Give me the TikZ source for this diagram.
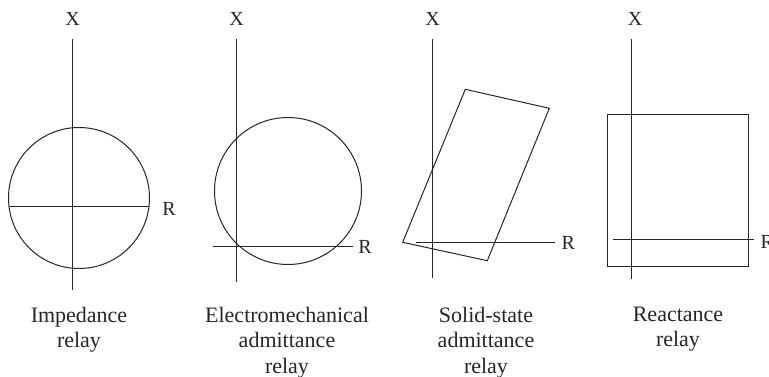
\documentclass[tikz,border=0pt]{standalone}
\usepackage{fontspec}
\setmainfont{Liberation Serif}
\begin{document}
\begin{tikzpicture}[x=1pt,y=-1pt,
  every node/.style={inner sep=0pt,outer sep=0pt,text=black!85},
  axis/.style={line width=1pt,draw=black!85},
  curve/.style={line width=1pt,draw=black!85},
  axlabel/.style={font=\fontsize{20}{24}\selectfont},
  caption/.style={anchor=north,align=center,font=\fontsize{22}{25.5}\selectfont}]
\useasboundingbox (0,0) rectangle (769,377);
% ---- Panel 1: impedance relay
\coordinate (x1t) at (72.7,39);
\coordinate (x1b) at (72.7,290);
\coordinate (r1l) at (9,207);
\coordinate (r1r) at (148.6,207);
\node[axlabel,anchor=base] (X1) at (72.7,26) {X};
\node[axlabel,anchor=west] (R1) at (162.3,209) {R};
\draw[curve] (79,198) circle[radius=70.5];
\draw[axis] (x1t) -- (x1b);
\draw[axis] (r1l) -- (r1r);
\node[caption] (c1) at (79,307) {Impedance\\relay};
% ---- Panel 2: electromechanical admittance relay
\coordinate (x2t) at (236,39);
\coordinate (x2b) at (236,281.7);
\coordinate (r2l) at (212.7,246.7);
\coordinate (r2r) at (352.7,246.7);
\node[axlabel,anchor=base] (X2) at (236.7,26) {X};
\node[axlabel,anchor=west] (R2) at (358.3,247) {R};
\draw[curve] (288,191) circle[radius=73.5];
\draw[axis] (x2t) -- (x2b);
\draw[axis] (r2l) -- (r2r);
\node[caption] (c2) at (287,307) {Electromechanical\\admittance\\relay};
% ---- Panel 3: solid-state admittance relay
\coordinate (x3t) at (432.7,39);
\coordinate (x3b) at (432.7,278);
\coordinate (r3l) at (416,242.7);
\coordinate (r3r) at (555,242.7);
\node[axlabel,anchor=base] (X3) at (432.7,26) {X};
\node[axlabel,anchor=west] (R3) at (561.7,243) {R};
\draw[curve,line join=miter] (465.3,89.3) -- (549.3,108.3) -- (487.3,260.7) -- (402.7,242.3) -- cycle;
\draw[axis] (x3t) -- (x3b);
\draw[axis] (r3l) -- (r3r);
\node[caption] (c3) at (486,307) {Solid-state\\admittance\\relay};
% ---- Panel 4: reactance relay
\coordinate (x4t) at (631.7,39);
\coordinate (x4b) at (631.7,279.3);
\coordinate (r4l) at (613.3,239.3);
\coordinate (r4r) at (754,239.3);
\node[axlabel,anchor=base] (X4) at (635,26) {X};
\node[axlabel,anchor=west] (R4) at (760.5,241.5) {R};
\draw[curve] (607.3,114.3) rectangle (748,266);
\draw[axis] (x4t) -- (x4b);
\draw[axis] (r4l) -- (r4r);
\node[caption] (c4) at (678,307) {Reactance\\relay};
\end{tikzpicture}
\end{document}
